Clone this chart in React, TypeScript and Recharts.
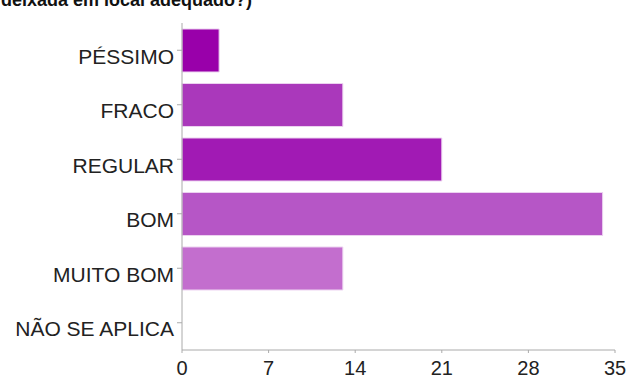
import { BarChart, Bar, XAxis, YAxis, Cell } from 'recharts';

const categories = ['PÉSSIMO', 'FRACO', 'REGULAR', 'BOM', 'MUITO BOM', 'NÃO SE APLICA'];
const counts = [3, 13, 21, 34, 13, 0];
const barColors = ['#9900aa', '#aa38bb', '#a11ab4', '#b656c6', '#c36ece', '#cf8ad8'];
const xTicks = [0, 7, 14, 21, 28, 35];

const data = categories.map((name, i) => ({ name, value: counts[i] }));

const font = 'Liberation Sans, Arial, sans-serif';

export default function App() {
  return (
    <div style={{ position: 'absolute', left: 0, top: 0, width: 632, height: 378, overflow: 'hidden', background: '#fff' }}>
      <div
        style={{
          position: 'absolute',
          left: 1,
          top: -9,
          fontFamily: font,
          fontWeight: 'bold',
          fontSize: 18,
          lineHeight: '18px',
          color: '#111',
          whiteSpace: 'nowrap',
        }}
      >
        deixada em local adequado?)
      </div>
      <BarChart
        width={632}
        height={378}
        data={data}
        layout="vertical"
        margin={{ top: 23, right: 17, left: 0, bottom: 0 }}
        barCategoryGap="11%"
      >
        <XAxis
          type="number"
          domain={[0, 35]}
          ticks={xTicks}
          interval={0}
          height={28}
          stroke="#aaa"
          tickSize={3}
          tickMargin={8}
          tick={{ fill: '#222', fontSize: 20, fontFamily: font }}
        />
        <YAxis
          type="category"
          dataKey="name"
          width={182}
          stroke="#aaa"
          tickSize={5}
          tickMargin={3}
          interval={0}
          tick={{ fill: '#222', fontSize: 21, fontFamily: font, dy: 6 }}
        />
        <Bar dataKey="value" stroke="#ecd2f0" strokeWidth={1} isAnimationActive={false}>
          {data.map((d, i) => (
            <Cell key={d.name} fill={barColors[i]} />
          ))}
        </Bar>
      </BarChart>
    </div>
  );
}
